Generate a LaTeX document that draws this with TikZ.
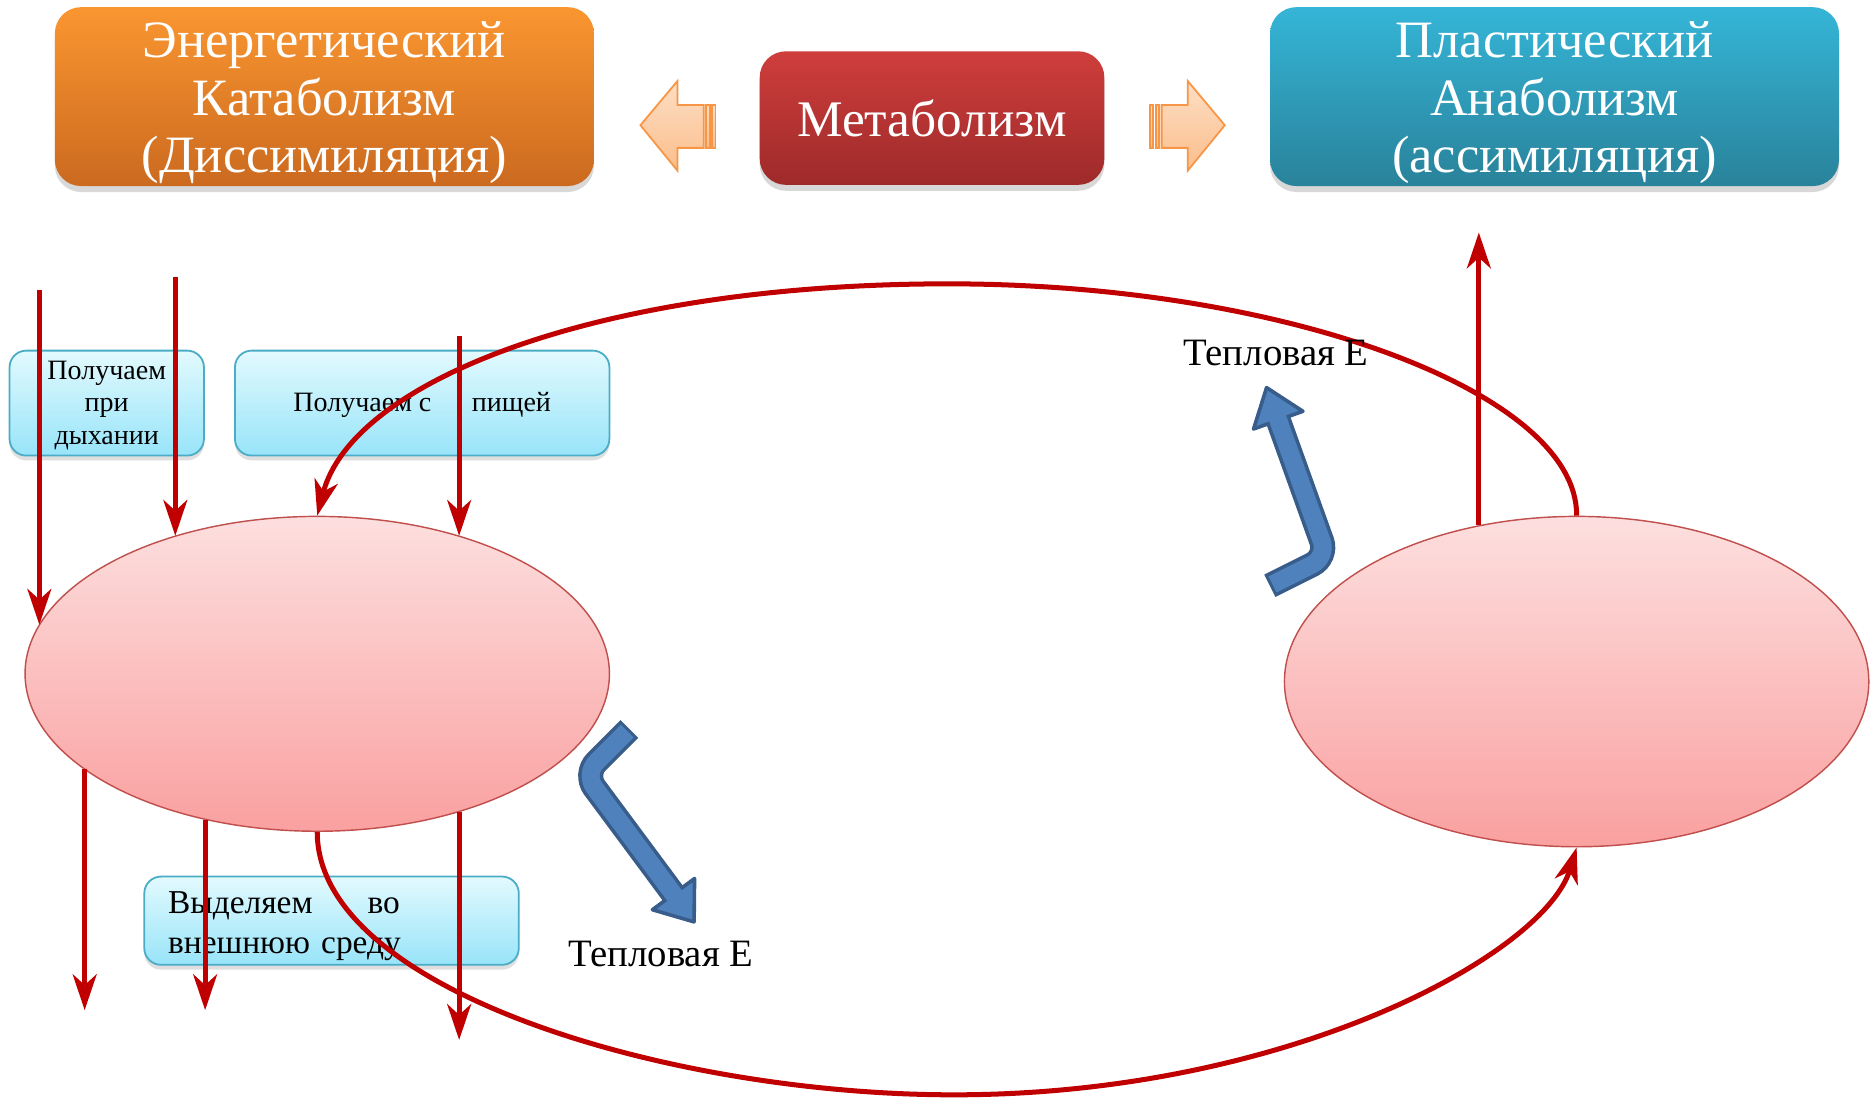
\documentclass[tikz,border=0pt]{standalone}
\usepackage{fontspec}
\setmainfont{Liberation Serif}
\usepackage{tikz}
\usetikzlibrary{arrows.meta,positioning,calc,shapes.geometric,shadows}

\definecolor{orangetop}{RGB}{250,150,48}
\definecolor{orangebot}{RGB}{203,106,32}
\definecolor{redtop}{RGB}{206,62,60}
\definecolor{redbot}{RGB}{158,42,42}
\definecolor{bluetop}{RGB}{53,181,215}
\definecolor{bluebot}{RGB}{41,130,154}
\definecolor{infotop}{RGB}{226,250,254}
\definecolor{infobot}{RGB}{152,228,249}
\definecolor{infoline}{RGB}{75,172,198}
\definecolor{celltop}{RGB}{253,223,223}
\definecolor{cellbot}{RGB}{250,160,160}
\definecolor{cellline}{RGB}{192,80,77}
\definecolor{redline}{RGB}{192,0,0}
\definecolor{heatfill}{RGB}{79,129,189}
\definecolor{heatline}{RGB}{56,93,138}
\definecolor{peachtop}{RGB}{253,222,196}
\definecolor{peachbot}{RGB}{251,190,140}
\definecolor{peachline}{RGB}{247,150,70}

% text block moved down inside its box
\newcommand{\lowered}[3]{\raisebox{-#1}[\height][\depth]{\begin{tabular}{@{}#2@{}}#3\end{tabular}}}

\tikzset{
  hdr/.style={rounded corners=22pt, text=white, align=center, inner sep=0pt,
    font=\fontsize{44}{48}\selectfont,
    drop shadow={shadow xshift=0pt, shadow yshift=-5pt, opacity=0.3}},
  info/.style={rounded corners=14pt, draw=infoline, line width=1.5pt,
    top color=infotop, bottom color=infobot, inner sep=0pt,
    drop shadow={shadow xshift=0pt, shadow yshift=-4pt, opacity=0.25}},
  cell/.style={ellipse, draw=cellline, line width=1.2pt, inner sep=0pt,
    top color=celltop, bottom color=cellbot},
  redarr/.style={draw=redline, line width=4.2pt,
    -{Stealth[length=30pt,width=20pt,inset=9pt]}},
  peach/.style={draw=peachline, line width=1.5pt, top color=peachtop, bottom color=peachbot},
  bluebord/.style={draw=heatline, line width=21pt, rounded corners=14pt},
  bluefill/.style={draw=heatfill, line width=15pt, rounded corners=14pt},
  bluehead/.style={fill=heatfill, draw=heatline, line width=3pt, line join=round},
  heat/.style={font=\fontsize{32.5}{38}\selectfont}
}

\begin{document}
\begin{tikzpicture}[x=1pt,y=-1pt]
    \path[fill=white, use as bounding box] (0,0) rectangle (1568,921);

    % header
    \node[hdr, minimum width=452pt, minimum height=150pt, top color=orangetop, bottom color=orangebot] (kat) at (272,81) {\lowered{6pt}{c}{Энергетический\\Катаболизм\\(Диссимиляция)}};
    \node[hdr, minimum width=289pt, minimum height=112pt, top color=redtop, bottom color=redbot, font=\fontsize{43}{48}\selectfont] (met) at (781.5,99) {Метаболизм};
    \node[hdr, minimum width=477pt, minimum height=150pt, top color=bluetop, bottom color=bluebot] (ana) at (1303.5,81) {\lowered{6pt}{c}{Пластический\\Анаболизм\\(ассимиляция)}};

    % striped block arrows
    \path[peach] (537,105) -- (568,68) -- (568,88) -- (590,88) -- (590,124) -- (568,124) -- (568,143) -- cycle;
    \path[peach] (592,88) rectangle (595,124);
    \path[peach] (597,88) rectangle (600,124);
    \path[peach] (1027,105) -- (996,68) -- (996,88) -- (974,88) -- (974,124) -- (996,124) -- (996,143) -- cycle;
    \path[peach] (972,88) rectangle (969,124);
    \path[peach] (967,88) rectangle (964,124);

    % boxes
    \node[info, minimum width=163pt, minimum height=88pt, font=\fontsize{23.5}{27}\selectfont] (resp) at (89.5,338) {\lowered{2pt}{c}{Получаем\\при\\дыхании}};
    \node[info, minimum width=314pt, minimum height=88pt, font=\fontsize{23.5}{27}\selectfont] (food) at (354,338) {\lowered{2pt}{c}{Получаем с\hspace{34pt}пищей}};
    \node[info, minimum width=314pt, minimum height=74pt, text width=274pt, align=left, font=\fontsize{28}{34}\selectfont] (out) at (278,772) {\lowered{4pt}{l}{Выделяем\hspace{46pt}во\\внешнюю среду}};

    % cells
    \node[cell, minimum width=490pt, minimum height=264pt] (ell1) at (266,565) {};
    \node[cell, minimum width=490pt, minimum height=277pt] (ell2) at (1322,571.5) {};

    % red arrows
    \coordinate (b1) at (33,243);
    \coordinate (b2) at (147,232);
    \coordinate (b3) at (385,282);
    \coordinate (v1) at (71,847);
    \coordinate (v2) at (172,847);
    \coordinate (v3) at (385,872);
    \coordinate (up) at (1240,195);
    \draw[redarr] (b1) -- (b1 |- ell1.170);
    \draw[redarr] (b2) -- (b2 |- ell1.136);
    \draw[redarr] (b3) -- (b3 |- ell1.44);
    \draw[redarr] (v1 |- ell1.202) -- (v1);
    \draw[redarr] (v2 |- ell1.232) -- (v2);
    \draw[redarr] (v3 |- ell1.316) -- (v3);
    \draw[redarr] (up |- ell2.122) -- (up);
    \draw[redarr] (ell2.north) .. controls (1323,330) and (1080,238) .. (795,238) .. controls (500,238) and (295,320) .. (ell1.north);
    \draw[redarr] (ell1.south) .. controls (266,830) and (560,918) .. (800,918) .. controls (1080,918) and (1295,800) .. (ell2.south);

    % heat arrows
    \coordinate (la) at (526,613);
    \coordinate (lb) at (490,649);
    \coordinate (lt) at (582,773);
    \coordinate (lh) at ($(lt)!29pt!(lb)$);
    \draw[bluebord] ($(la)!-2.5pt!(lb)$) -- (lb) -- (lh);
    \filldraw[bluehead] ($(lh)!22pt!90:(lt)$) -- (lt) -- ($(lh)!22pt!-90:(lt)$) -- cycle;
    \draw[bluefill] (la) -- (lb) -- ($(lh)!3pt!(lt)$);

    \coordinate (ra) at (1067,490);
    \coordinate (rb) at (1113,467);
    \coordinate (rt) at (1062,325);
    \coordinate (rh) at ($(rt)!29pt!(rb)$);
    \draw[bluebord] ($(ra)!-2.5pt!(rb)$) -- (rb) -- (rh);
    \filldraw[bluehead] ($(rh)!22pt!90:(rt)$) -- (rt) -- ($(rh)!22pt!-90:(rt)$) -- cycle;
    \draw[bluefill] (ra) -- (rb) -- ($(rh)!3pt!(rt)$);

    \node[heat] (q1) at (554,800) {Тепловая Е};
    \node[heat] (q2) at (1070,296) {Тепловая Е};
\end{tikzpicture}
\end{document}
